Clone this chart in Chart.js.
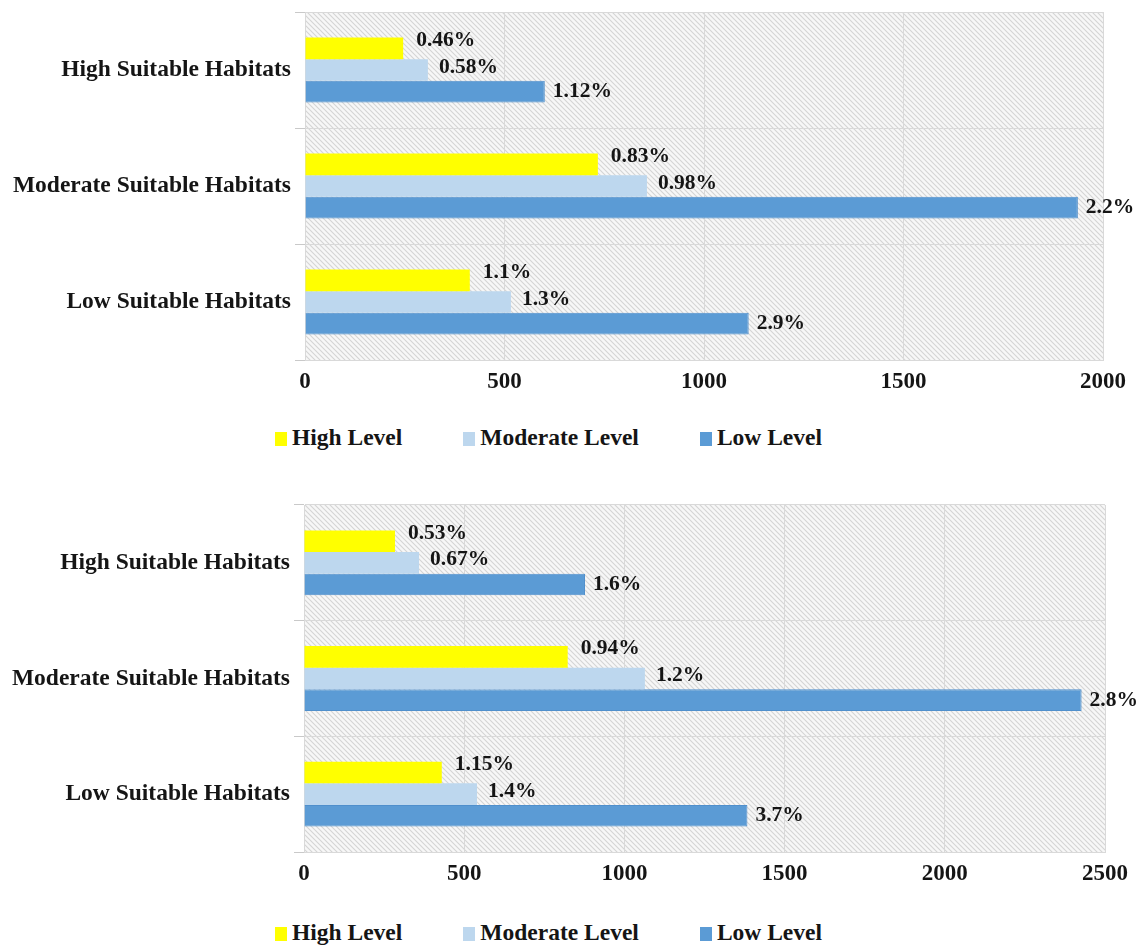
<!DOCTYPE html>
<html>
<head>
<meta charset="utf-8">
<script src="https://cdn.jsdelivr.net/npm/chart.js@4.4.1/dist/chart.umd.min.js"></script>
<style>
  html, body { margin: 0; padding: 0; background: #ffffff; overflow: hidden; }
  body { width: 1142px; height: 947px; position: relative; }
  canvas { position: absolute; left: 0; }
  #c1 { top: 0; }
  #c2 { top: 490px; }
  .legend {
    position: absolute; left: 275px; display: flex; align-items: center; gap: 61px;
    font: bold 23.5px "Liberation Serif", "Times New Roman", serif; color: #151515;
  }
  .legend .item { display: flex; align-items: center; }
  .legend .box { width: 12px; height: 14px; margin-right: 5px; margin-top: 2px; }
  #lg1 { top: 424px; }
  #lg2 { top: 919px; }
</style>
</head>
<body>
<canvas id="c1" width="1142" height="405"></canvas>
<div class="legend" id="lg1"></div>
<canvas id="c2" width="1142" height="407"></canvas>
<div class="legend" id="lg2"></div>
<script>
// Habitat classes on the category axis
const categories = ['High Suitable Habitats', 'Moderate Suitable Habitats', 'Low Suitable Habitats'];
const seriesNames = ['High Level', 'Moderate Level', 'Low Level'];

// Upper chart: area per class and level
const highTop = [246, 734, 413];
const moderateTop = [308, 857, 516];
const lowTop = [601, 1937, 1112];
const highTopPct = ['0.46%', '0.83%', '1.1%'];
const moderateTopPct = ['0.58%', '0.98%', '1.3%'];
const lowTopPct = ['1.12%', '2.2%', '2.9%'];
const ticksTop = [0, 500, 1000, 1500, 2000];

// Lower chart: area per class and level
const highBottom = [284, 823, 430];
const moderateBottom = [359, 1064, 540];
const lowBottom = [877, 2427, 1384];
const highBottomPct = ['0.53%', '0.94%', '1.15%'];
const moderateBottomPct = ['0.67%', '1.2%', '1.4%'];
const lowBottomPct = ['1.6%', '2.8%', '3.7%'];
const ticksBottom = [0, 500, 1000, 1500, 2000, 2500];

const COLORS = ['#ffff00', '#bdd7ee', '#5b9bd5'];
const SERIF = '"Liberation Serif", "Times New Roman", serif';
const INK = '#151515';

// Diagonal hatch used behind the bars
function makeHatch() {
  const s = 5;
  const c = document.createElement('canvas');
  c.width = s; c.height = s;
  const g = c.getContext('2d');
  g.fillStyle = '#f7f7f7';
  g.fillRect(0, 0, s, s);
  g.strokeStyle = '#d4d4d4';
  g.lineWidth = 1.1;
  g.beginPath();
  g.moveTo(-1, -1); g.lineTo(s + 1, s + 1);
  g.moveTo(-1, s - 1); g.lineTo(1, s + 1);
  g.moveTo(s - 1, -1); g.lineTo(s + 1, 1);
  g.stroke();
  return c;
}

const hatchBackground = {
  id: 'hatchBackground',
  beforeDraw(chart) {
    const { ctx, chartArea: a } = chart;
    ctx.save();
    ctx.fillStyle = ctx.createPattern(makeHatch(), 'repeat');
    ctx.fillRect(a.left, a.top, a.right - a.left, a.bottom - a.top);
    ctx.restore();
  }
};

// Percentage labels written just past the end of each bar
const barLabels = {
  id: 'barLabels',
  afterDatasetsDraw(chart) {
    const { ctx } = chart;
    ctx.save();
    ctx.font = 'bold 21.5px ' + SERIF;
    ctx.fillStyle = INK;
    ctx.textAlign = 'left';
    ctx.textBaseline = 'middle';
    chart.data.datasets.forEach((ds, i) => {
      const meta = chart.getDatasetMeta(i);
      meta.data.forEach((bar, j) => {
        ctx.fillText(ds.pctLabels[j], bar.x + ds.labelGap, bar.y + ds.labelShift);
      });
    });
    ctx.restore();
  }
};

function buildChart(id, values, pcts, ticks, padTop, padRight, axisWidth) {
  const datasets = values.map((v, i) => ({
    label: seriesNames[i],
    data: v,
    pctLabels: pcts[i],
    labelGap: [13, 11, 8][i],
    labelShift: [-8, -3, 0][i],
    backgroundColor: COLORS[i],
    borderColor: i === 2 ? '#4f8fcc' : COLORS[i],
    borderWidth: i === 2 ? 1 : 0,
    categoryPercentage: 0.56,
    barPercentage: 1.0
  }));
  return new Chart(document.getElementById(id), {
    type: 'bar',
    data: { labels: categories, datasets },
    options: {
      indexAxis: 'y',
      responsive: false,
      animation: false,
      layout: { padding: { top: padTop, right: padRight, left: 0, bottom: 0 } },
      plugins: { legend: { display: false }, tooltip: { enabled: false } },
      scales: {
        x: {
          min: ticks[0],
          max: ticks[ticks.length - 1],
          afterBuildTicks(scale) { scale.ticks = ticks.map(v => ({ value: v })); },
          afterFit(scale) { scale.height = 45; },
          grid: { color: '#d9d9d9', lineWidth: 1, drawTicks: false },
          border: { display: true, color: '#d9d9d9' },
          ticks: {
            padding: 8,
            color: INK,
            font: { family: SERIF, size: 23, weight: 'bold' },
            callback: (v) => String(v)
          }
        },
        y: {
          afterFit(scale) {
            scale.width = axisWidth;
            scale.paddingTop = 0;
            scale.paddingBottom = 0;
          },
          grid: { color: '#d9d9d9', lineWidth: 1, drawTicks: true, tickLength: 10, tickColor: '#c9c9c9', offset: true },
          border: { display: true, color: '#d9d9d9' },
          ticks: {
            padding: 4,
            color: INK,
            font: { family: SERIF, size: 23.5, weight: 'bold' }
          }
        }
      }
    },
    plugins: [hatchBackground, barLabels]
  });
}

function buildLegend(id) {
  const host = document.getElementById(id);
  seriesNames.forEach((name, i) => {
    const item = document.createElement('div');
    item.className = 'item';
    const box = document.createElement('span');
    box.className = 'box';
    box.style.background = COLORS[i];
    const txt = document.createElement('span');
    txt.textContent = name;
    item.appendChild(box);
    item.appendChild(txt);
    host.appendChild(item);
  });
}

buildChart('c1', [highTop, moderateTop, lowTop], [highTopPct, moderateTopPct, lowTopPct], ticksTop, 12, 39, 305);
buildChart('c2', [highBottom, moderateBottom, lowBottom], [highBottomPct, moderateBottomPct, lowBottomPct], ticksBottom, 15, 37, 304);
buildLegend('lg1');
buildLegend('lg2');
</script>
</body>
</html>
